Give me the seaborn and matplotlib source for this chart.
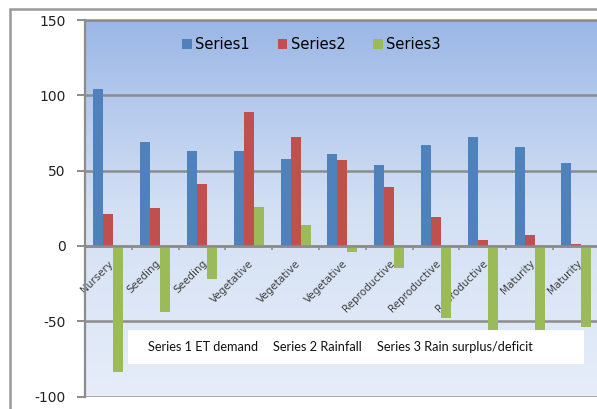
import numpy as np
import pandas as pd
import matplotlib
matplotlib.use("Agg")
import matplotlib.pyplot as plt
from matplotlib.patches import Rectangle
from matplotlib.colors import LinearSegmentedColormap
import seaborn as sns

# Crop stages (one bar group per period)
stages = ["Nursery", "Seeding", "Seeding", "Vegetative", "Vegetative", "Vegetative",
          "Reproductive", "Reproductive", "Reproductive", "Maturity", "Maturity"]
series1 = [104, 69, 63, 63, 58, 61, 54, 67, 72, 66, 55]      # ET demand
series2 = [21, 25, 41, 89, 72, 57, 39, 19, 4, 7, 1]          # Rainfall
series3 = [-84, -44, -22, 26, 14, -4, -15, -48, -68, -59, -54]  # Rain surplus/deficit
series_names = ["Series1", "Series2", "Series3"]
y_ticks = [-100, -50, 0, 50, 100, 150]

colors = ["#4F81BD", "#C0504D", "#9BBB59"]

slots = list(range(len(stages)))
df = pd.DataFrame({
    "slot": slots * 3,
    "value": series1 + series2 + series3,
    "series": [n for n in series_names for _ in stages],
})

W, H = 597, 409
fig = plt.figure(figsize=(W / 100, H / 100), dpi=100)
fig.patch.set_facecolor("white")

# plot area in pixel terms
left, top, bottom = 85, 20, 396.5
cat_w = 46.8
ax = fig.add_axes([left / W, (H - bottom) / H, cat_w * len(stages) / W, (bottom - top) / H])

sns.barplot(data=df, x="slot", y="value", hue="series", order=slots,
            hue_order=series_names, palette=colors, width=0.64, gap=0,
            saturation=1, ax=ax, zorder=3)

ax.set_xlim(-0.5, len(stages) - 0.5)
ax.set_ylim(-100, 150)

# vertical gradient background
grad = np.linspace(0, 1, 256).reshape(-1, 1)
cmap = LinearSegmentedColormap.from_list("bg", ["#E6EDF9", "#D3E0F4", "#9BB7E6"])
ax.imshow(grad, extent=(-0.5, len(stages) - 0.5, -100, 150), origin="lower",
          aspect="auto", cmap=cmap, zorder=0)
ax.set_facecolor("none")

grid_c = "#8C8C8C"
ax.set_yticks(y_ticks)
ax.set_yticklabels([str(v) for v in y_ticks])
ax.yaxis.grid(True, color=grid_c, linewidth=1.8, zorder=1)
ax.set_axisbelow(True)
ax.tick_params(axis="y", direction="out", length=6, width=1.4, color=grid_c,
               labelsize=10, labelcolor="#222222", pad=8)

ax.spines["right"].set_visible(False)
ax.spines["top"].set_color(grid_c)
ax.spines["top"].set_linewidth(1.8)
ax.spines["left"].set_color(grid_c)
ax.spines["left"].set_linewidth(1.6)
ax.spines["bottom"].set_position(("data", 0))
ax.spines["bottom"].set_color(grid_c)
ax.spines["bottom"].set_linewidth(1.8)
ax.spines["bottom"].set_zorder(4)

ax.set_xticks(slots)
ax.set_xticklabels(stages, rotation=45, ha="right", va="top",
                   rotation_mode="anchor", fontsize=7.5, color="#404040")
ax.set_xticks([i + 0.5 for i in slots[:-1]], minor=True)
ax.tick_params(axis="x", which="major", length=0, pad=9)
ax.tick_params(axis="x", which="minor", length=3, width=1.2, color=grid_c, direction="out")
ax.set_xlabel("")
ax.set_ylabel("")

# legend across the top of the plot area
handles, labels = ax.get_legend_handles_labels()
ax.legend(handles, labels, loc="center", bbox_to_anchor=(0.44, 0.934), ncol=3,
          frameon=False, prop={"family": "DejaVu Sans", "size": 10.5},
          handlelength=0.65, handleheight=0.65, handletextpad=0.25, columnspacing=1.9)

# outer chart frame
fig.add_artist(Rectangle((10 / W, -0.2), 1.2, 0.2 + (H - 8.5) / H,
                         transform=fig.transFigure, fill=False,
                         edgecolor="#999999", linewidth=1.8))

# caption box describing the series
bx0, bx1, by0, by1 = 128, 584, 330, 364
fig.add_artist(Rectangle((bx0 / W, (H - by1) / H), (bx1 - bx0) / W, (by1 - by0) / H,
                         transform=fig.transFigure, facecolor="white",
                         edgecolor="none", zorder=5))
for x, txt in [(148, "Series 1 ET demand"), (273, "Series 2 Rainfall"),
               (377, "Series 3 Rain surplus/deficit")]:
    fig.text(x / W, (H - (by0 + by1) / 2) / H, txt, fontsize=9.2, family="Lato",
             color="#111111", va="center", ha="left", zorder=6)

fig.savefig("out.png", dpi=100)
